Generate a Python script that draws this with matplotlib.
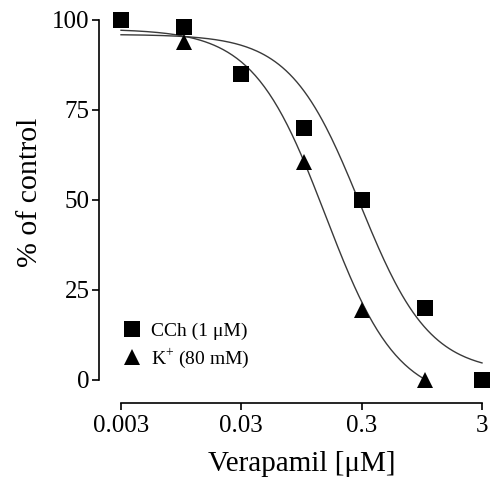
import numpy as np
import matplotlib
matplotlib.use("Agg")
import matplotlib.pyplot as plt

plt.rcParams['font.family'] = ['Liberation Serif', 'DejaVu Serif']
plt.rcParams['mathtext.fontset'] = 'custom'
plt.rcParams['mathtext.rm'] = 'Liberation Serif'

# data
conc = [0.003, 0.01, 0.03, 0.1, 0.3, 1, 3]
cch = [100, 98, 85, 70, 50, 20, 0]
k_conc = [0.01, 0.1, 0.3, 1]
k_vals = [94, 60.5, 19.5, 0]
xticks = [0.003, 0.03, 0.3, 3]
xticklabels = ["0.003", "0.03", "0.3", "3"]
yticks = [0, 25, 50, 75, 100]

# fitted 4-parameter logistic curves (top, bottom, IC50, hill)
cch_fit = (96, 2, 0.29, 1.5)
k_fit = (97.5, -6, 0.15, 1.45)
cch_range = (0.003, 3)
k_range = (0.003, 1)


def logistic(x, p):
    top, bottom, ic50, h = p
    return bottom + (top - bottom) / (1 + (x / ic50) ** h)


fig = plt.figure(figsize=(4.92, 4.87), dpi=100)
ax = fig.add_axes([121 / 492, 107 / 487, 361 / 492, 360 / 487])
ax.set_xscale('log')
ax.set_xlim(0.003, 3)
ax.set_ylim(0, 100)

xc = np.logspace(np.log10(cch_range[0]), np.log10(cch_range[1]), 200)
ax.plot(xc, logistic(xc, cch_fit), color='#3a3a3a', lw=1.0, clip_on=False, zorder=2)
xk = np.logspace(np.log10(k_range[0]), np.log10(k_range[1]), 200)
ax.plot(xk, logistic(xk, k_fit), color='#3a3a3a', lw=1.0, clip_on=False, zorder=2)

ax.plot(k_conc, k_vals, linestyle='none', marker='^', ms=12, mew=0, color='black',
        clip_on=False, zorder=3, label='K$^{+}$ (80 mM)')
ax.plot(conc, cch, linestyle='none', marker='s', ms=11.5, mew=0, color='black',
        clip_on=False, zorder=4, label='CCh (1 μM)')

for s in ['top', 'right']:
    ax.spines[s].set_visible(False)
ax.spines['left'].set_position(('outward', 16))
ax.spines['bottom'].set_position(('outward', 16.5))
ax.spines['left'].set_linewidth(1.2)
ax.spines['bottom'].set_linewidth(1.2)

ax.set_xticks(xticks)
ax.set_xticklabels(xticklabels)
ax.xaxis.set_minor_locator(matplotlib.ticker.NullLocator())
ax.set_yticks(yticks)
ax.tick_params(axis='both', length=5, width=1.2, labelsize=18, direction='out')
ax.tick_params(axis='y', pad=1.5)
ax.tick_params(axis='x', pad=4)

ax.set_xlabel('Verapamil [μM]', fontsize=21, labelpad=10)
ax.set_ylabel('% of control', fontsize=21.5, labelpad=7, y=0.52)

h, l = ax.get_legend_handles_labels()
ax.legend([h[1], h[0]], [l[1], l[0]], loc='upper left',
          bbox_to_anchor=(122 / 492, 1 - 322 / 487), bbox_transform=fig.transFigure,
          frameon=False, fontsize=14, handlelength=1.0, handletextpad=0.5,
          labelspacing=0.35, borderpad=0, borderaxespad=0)

fig.savefig('out.png', dpi=100)
